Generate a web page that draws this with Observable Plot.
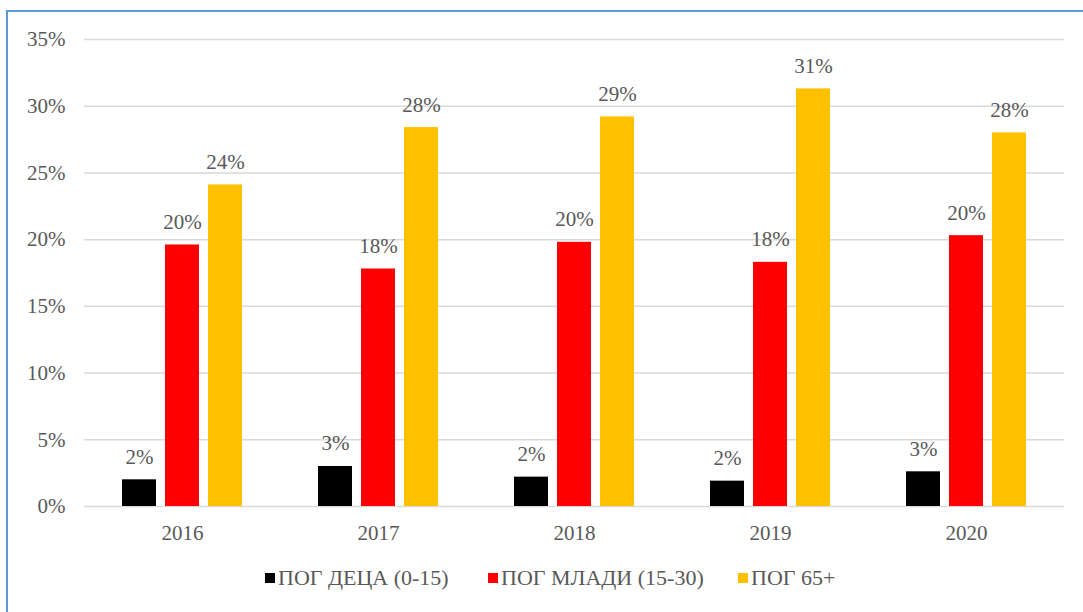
<!DOCTYPE html>
<html>
<head>
<meta charset="utf-8">
<script src="https://cdn.jsdelivr.net/npm/d3@7"></script>
<script src="https://cdn.jsdelivr.net/npm/@observablehq/plot@0.6"></script>
<style>
  html, body { margin: 0; padding: 0; background: #fff; }
  #wrap { position: relative; width: 1083px; height: 612px; overflow: hidden; background: #fff; }
  #frame { position: absolute; left: 6px; top: 10px; width: 1200px; height: 800px;
           border-left: 2px solid #5b9bd5; border-top: 2px solid #5b9bd5; pointer-events: none; z-index: 5; }
  #chart { position: absolute; left: 0; top: 0; }
  #chart svg text { font-family: "Liberation Serif", "Times New Roman", serif; }
  #legend { position: absolute; top: 565px; left: 0; width: 1083px; height: 28px;
            font-family: "Liberation Serif", "Times New Roman", serif; font-size: 22px; color: #595959; }
  .item { position: absolute; top: 0; display: flex; align-items: center; white-space: nowrap; }
  .sw { width: 10px; height: 10px; margin-right: 3px; display: inline-block; }
</style>
</head>
<body>
<div id="wrap">
  <div id="chart"></div>
  <div id="legend"></div>
  <div id="frame"></div>
</div>
<script>
const years = ["2016", "2017", "2018", "2019", "2020"];
const series = ["ПОГ ДЕЦА (0-15)", "ПОГ МЛАДИ (15-30)", "ПОГ 65+"];
const colors = ["#000000", "#ff0000", "#ffc000"];
const childValues = [2.0, 3.0, 2.2, 1.9, 2.6];
const youthValues = [19.6, 17.8, 19.8, 18.3, 20.3];
const elderValues = [24.1, 28.4, 29.2, 31.3, 28.0];
const yTicks = [0, 5, 10, 15, 20, 25, 30, 35];

const valueSets = [childValues, youthValues, elderValues];
const data = [];
years.forEach((yr, i) => {
  series.forEach((s, j) => {
    data.push({year: yr, series: s, value: valueSets[j][i]});
  });
});

const plot = Plot.plot({
  width: 1083,
  height: 560,
  marginLeft: 83,
  marginRight: 18,
  marginTop: 39,
  marginBottom: 54,
  style: {fontSize: "21px", color: "#595959", background: "transparent"},
  fx: {domain: years, padding: 0, axis: "bottom", label: null, tickSize: 0, tickPadding: 19},
  x: {domain: series, paddingInner: 0.22, paddingOuter: 0.865, axis: null},
  y: {domain: [0, 35], ticks: yTicks, tickFormat: d => d + "%", tickSize: 0, tickPadding: 19, label: null},
  color: {domain: series, range: colors},
  marks: [
    Plot.ruleY(yTicks, {stroke: "#d9d9d9", strokeWidth: 1.5}),
    Plot.barY(data, {fx: "year", x: "series", y: "value", fill: "series"}),
    Plot.text(data, {fx: "year", x: "series", y: "value", text: d => Math.round(d.value) + "%",
      lineAnchor: "bottom", dy: -16, fill: "#595959", fontSize: 21})
  ]
});
document.getElementById("chart").appendChild(plot);

const legend = document.getElementById("legend");
const legendX = [265, 488, 738];
series.forEach((s, j) => {
  const item = document.createElement("div");
  item.className = "item";
  item.style.left = legendX[j] + "px";
  const sw = document.createElement("span");
  sw.className = "sw";
  sw.style.background = colors[j];
  item.appendChild(sw);
  const t = document.createElement("span");
  t.textContent = s;
  item.appendChild(t);
  legend.appendChild(item);
});
</script>
</body>
</html>
